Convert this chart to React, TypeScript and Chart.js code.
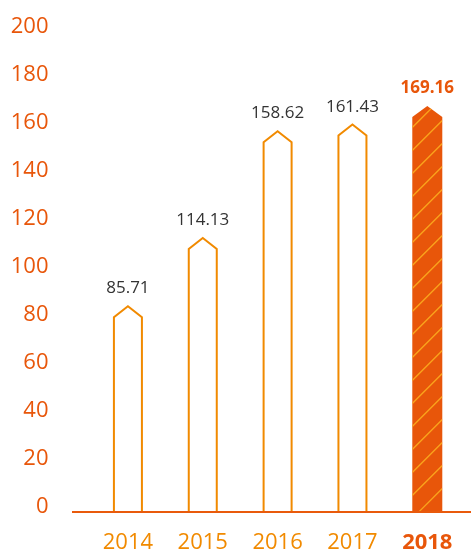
import React, { useEffect, useRef } from "react";
import { Chart, registerables } from "chart.js";

Chart.register(...registerables);

// Yearly figures shown on the chart
const years: string[] = ["2014", "2015", "2016", "2017", "2018"];
const values: number[] = [85.71, 114.13, 158.62, 161.43, 169.16];
const yTickValues: number[] = [0, 20, 40, 60, 80, 100, 120, 140, 160, 180, 200];

const ORANGE = "#f18a00";
const RED = "#e8560a";
const STRIPE = "#f9a41c";
const VALUE_TEXT = "#333333";
const FONT = "'Open Sans', sans-serif";
const HIGHLIGHT = years.length - 1;
const CLEAR = "rgba(0,0,0,0)";

// Draws each bar as an arrow-topped column, its value above it, and the base line.
const arrowBars = {
  id: "arrowBars",
  afterDatasetsDraw(chart: any) {
    const ctx: CanvasRenderingContext2D = chart.ctx;
    const meta = chart.getDatasetMeta(0);
    const yScale = chart.scales.y;

    meta.data.forEach((bar: any, i: number) => {
      const { x, y, base, width } = bar.getProps(["x", "y", "base", "width"], true);
      const highlight = i === HIGHLIGHT;
      const half = width / 2 + (highlight ? 1 : 0);
      const shoulder = y + 11;

      ctx.save();
      ctx.beginPath();
      ctx.moveTo(x - half, base);
      ctx.lineTo(x - half, shoulder);
      ctx.lineTo(x, y);
      ctx.lineTo(x + half, shoulder);
      ctx.lineTo(x + half, base);
      if (highlight) {
        ctx.closePath();
        ctx.fillStyle = RED;
        ctx.fill();
        ctx.clip();
        ctx.strokeStyle = STRIPE;
        ctx.lineWidth = 1.3;
        for (let s = base + 2 * half; s > y - 2 * half; s -= 23) {
          ctx.beginPath();
          ctx.moveTo(x - half, s);
          ctx.lineTo(x + half, s - 2 * half);
          ctx.stroke();
        }
      } else {
        ctx.strokeStyle = ORANGE;
        ctx.lineWidth = 2;
        ctx.lineJoin = "miter";
        ctx.stroke();
      }
      ctx.restore();

      // value label
      const v = values[i];
      ctx.save();
      ctx.font = `${highlight ? "bold " : ""}17px ${FONT}`;
      ctx.fillStyle = highlight ? RED : VALUE_TEXT;
      ctx.textAlign = "center";
      ctx.textBaseline = "alphabetic";
      ctx.fillText(v.toFixed(2), x, yScale.getPixelForValue(v) - 13);
      ctx.restore();
    });

    // base line along zero
    const y0 = yScale.getPixelForValue(0);
    ctx.save();
    ctx.strokeStyle = "#e95a0c";
    ctx.lineWidth = 2;
    ctx.beginPath();
    ctx.moveTo(72, y0);
    ctx.lineTo(chart.width, y0);
    ctx.stroke();
    ctx.restore();
  },
};

export default function App() {
  const canvasRef = useRef<HTMLCanvasElement | null>(null);

  useEffect(() => {
    const canvas = canvasRef.current;
    if (!canvas) return;
    const chart = new Chart(canvas, {
      type: "bar",
      data: {
        labels: years,
        datasets: [
          {
            data: values,
            backgroundColor: CLEAR,
            borderWidth: 0,
            barThickness: 28,
          },
        ],
      },
      options: {
        animation: false,
        responsive: false,
        devicePixelRatio: 1,
        layout: { padding: { top: 32, right: 5.5, left: 0, bottom: 0 } },
        plugins: {
          legend: { display: false },
          tooltip: { enabled: false },
        },
        scales: {
          x: {
            grid: { display: false, drawTicks: false },
            border: { display: false },
            ticks: {
              color: (c: any) => (c.index === HIGHLIGHT ? RED : ORANGE),
              font: (c: any) => ({
                family: FONT,
                size: 22,
                weight: c.index === HIGHLIGHT ? "bold" : "normal",
              }),
              padding: 18,
            },
            afterFit: (s: any) => {
              s.height = 42;
            },
          },
          y: {
            min: 0,
            max: 200,
            afterBuildTicks: (s: any) => {
              s.ticks = yTickValues.map((v) => ({ value: v }));
            },
            // invisible tick marks hold the labels away from the plot area
            grid: {
              display: true,
              drawOnChartArea: false,
              drawTicks: true,
              tickLength: 42,
              color: CLEAR,
            },
            border: { display: false },
            ticks: {
              color: RED,
              font: { family: FONT, size: 22 },
              padding: 0,
              labelOffset: -5,
            },
            afterFit: (s: any) => {
              s.width = 90.5;
            },
          },
        },
      },
      plugins: [arrowBars],
    } as any);
    return () => chart.destroy();
  }, []);

  return (
    <div style={{ position: "fixed", left: 0, top: 0, width: 471, height: 554, background: "#ffffff" }}>
      <canvas ref={canvasRef} width={471} height={554} />
    </div>
  );
}
